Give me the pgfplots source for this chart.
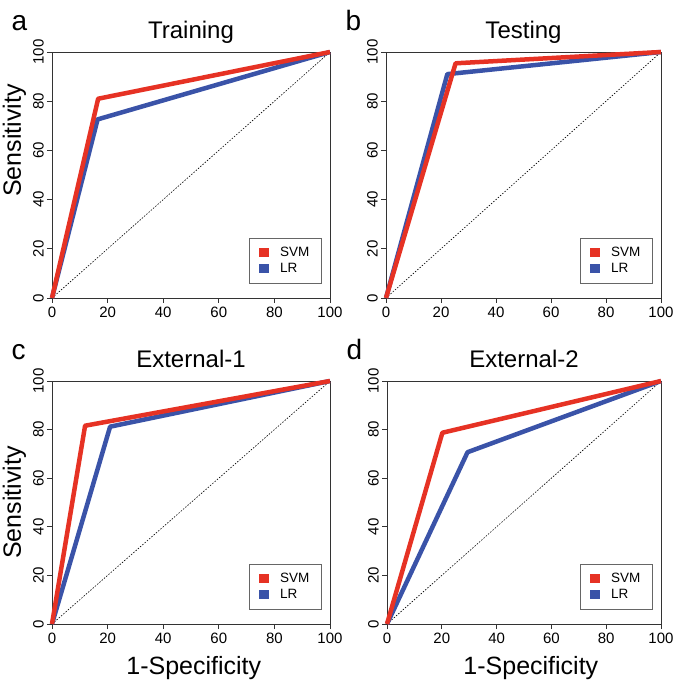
\documentclass[border=0pt]{standalone}
\usepackage{pgfplots}
\pgfplotsset{compat=1.18}
\usepackage{fontspec}
\setmainfont{Liberation Sans}
\definecolor{svmred}{RGB}{230,50,36}
\definecolor{lrblue}{RGB}{58,83,168}
\pgfplotsset{
  rocax/.style={
    scale only axis,
    xmin=0, xmax=100, ymin=0, ymax=100,
    xtick={0,20,...,100}, ytick={0,20,...,100},
    tick align=outside, xtick pos=lower, ytick pos=left,
    major tick length=5pt,
    axis line style={black!80, line width=0.8pt},
    tick style={black!80, line width=0.8pt},
    /pgf/number format/assume math mode=true,
    ticklabel style={font=\fontsize{15}{18}\selectfont},
    yticklabel style={rotate=90, anchor=south, inner sep=3pt},
    xticklabel style={inner sep=4pt},
    title style={font=\fontsize{24}{28}\selectfont, at={(0.5,1)}, anchor=base, yshift=7pt},
    label style={font=\fontsize{25}{29}\selectfont},
    clip=false,
    reverse legend,
    legend style={at={(rel axis cs:0.97,0.06)}, anchor=south east, draw=black!60,
      font=\fontsize{13.5}{16}\selectfont, inner xsep=10pt, inner ysep=7pt, row sep=1pt,
      line width=0.6pt,
      /tikz/every odd column/.append style={column sep=9pt}},
    legend cell align=left,
    legend image code/.code={\fill[#1, draw=none] (0pt,-4.5pt) rectangle (10pt,4.5pt);},
  },
  svm/.style={svmred, line width=4.5pt, line join=round},
  lr/.style={lrblue, line width=4.5pt, line join=round},
  diag/.style={black, dash pattern=on 1.5pt off 1.5pt, line width=0.6pt, forget plot},
}
\newcommand{\panelletter}[1]{\node[anchor=base west, font=\fontsize{28}{32}\selectfont] at (rel axis cs:0,1) [xshift=-44pt, yshift=21pt] {#1};}
\begin{document}
\begin{tikzpicture}
\useasboundingbox (0,0) rectangle (685pt,685pt);
% a
\begin{axis}[rocax, at={(52pt,387pt)}, anchor=south west, width=278pt, height=246pt,
  title={Training}, ylabel={Sensitivity}, ylabel style={at={(ticklabel cs:0.64,0.5pt)}}]
\addplot[diag] coordinates {(0,0) (100,100)};
\addplot[lr] coordinates {(0,0) (16.4,72.6) (100,100)};
\addplot[svm] coordinates {(0,0) (16.6,81) (100,100)};
\legend{LR,SVM}
\panelletter{a}
\end{axis}
% b
\begin{axis}[rocax, at={(386pt,387pt)}, anchor=south west, width=275pt, height=246pt,
  title={Testing}]
\addplot[diag] coordinates {(0,0) (100,100)};
\addplot[lr] coordinates {(0,0) (22.3,91) (100,100)};
\addplot[svm] coordinates {(0,0) (25.3,95.4) (100,100)};
\legend{LR,SVM}
\panelletter{b}
\end{axis}
% c
\begin{axis}[rocax, at={(52pt,61pt)}, anchor=south west, width=278pt, height=243pt,
  title={External-1}, ylabel={Sensitivity}, xlabel={1-Specificity},
  ylabel style={at={(ticklabel cs:0.5,0.5pt)}},
  xlabel style={at={(ticklabel cs:0.51,5pt)}}]
\addplot[diag] coordinates {(0,0) (100,100)};
\addplot[lr] coordinates {(0,0) (20.9,81.2) (100,100)};
\addplot[svm] coordinates {(0,0) (11.9,81.6) (100,100)};
\legend{LR,SVM}
\panelletter{c}
\end{axis}
% d
\begin{axis}[rocax, at={(387pt,61pt)}, anchor=south west, width=274pt, height=243pt,
  title={External-2}, xlabel={1-Specificity},
  xlabel style={at={(ticklabel cs:0.525,5pt)}}]
\addplot[diag] coordinates {(0,0) (100,100)};
\addplot[lr] coordinates {(0,0) (29.4,70.7) (100,100)};
\addplot[svm] coordinates {(0,0) (20.2,78.7) (100,100)};
\legend{LR,SVM}
\panelletter{d}
\end{axis}
\end{tikzpicture}
\end{document}
